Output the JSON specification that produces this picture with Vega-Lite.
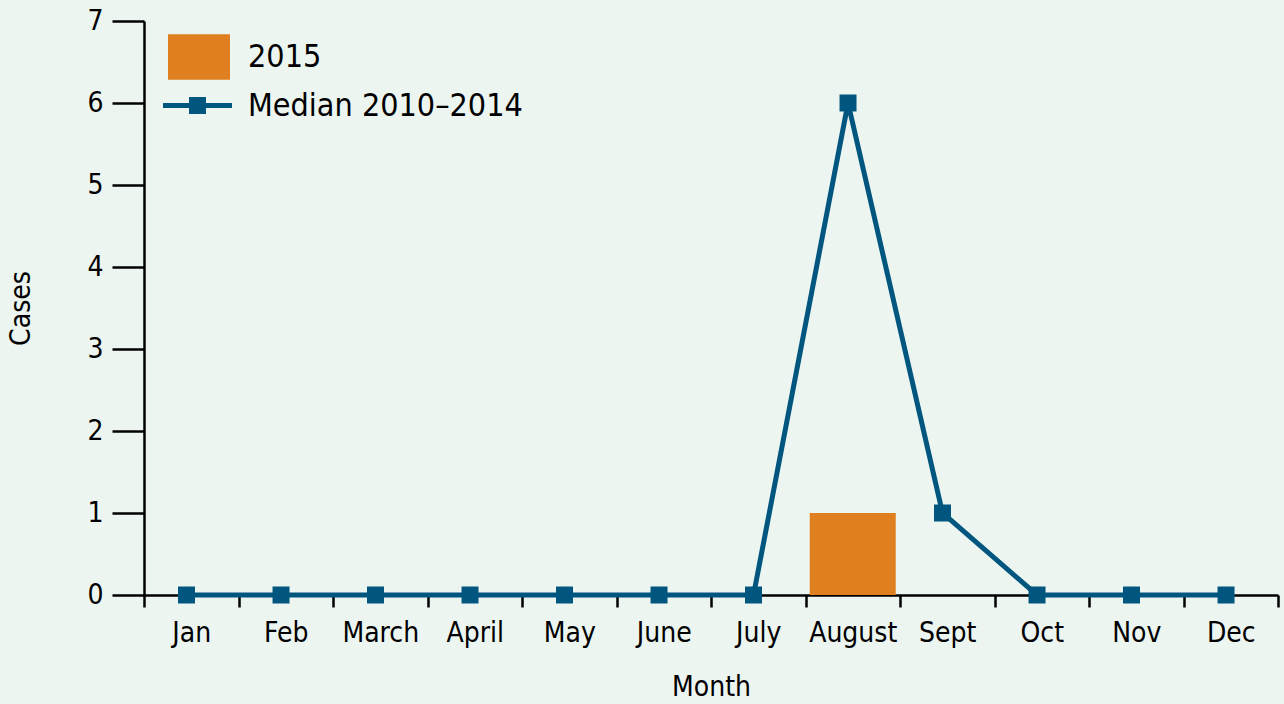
{
  "$schema": "https://vega.github.io/schema/vega-lite/v6.json",
  "width": 1134,
  "height": 574,
  "autosize": "none",
  "padding": {"left": 144, "top": 21, "right": 6, "bottom": 109},
  "background": "#ECF5F0",
  "config": {
    "view": {"stroke": null},
    "font": "DejaVu Sans Condensed, Liberation Sans, sans-serif",
    "axis": {"domainColor": "#000000", "domainWidth": 2.5, "tickColor": "#000000", "tickWidth": 2.5, "labelColor": "#000000", "titleColor": "#000000", "labelFont": "DejaVu Sans Condensed, Liberation Sans, sans-serif", "titleFont": "DejaVu Sans Condensed, Liberation Sans, sans-serif", "labelFontWeight": "normal", "titleFontWeight": "normal", "grid": false}
  },
  "data": {
    "values": [
      {"month": "Jan", "median": 0, "y2015": 0},
      {"month": "Feb", "median": 0, "y2015": 0},
      {"month": "March", "median": 0, "y2015": 0},
      {"month": "April", "median": 0, "y2015": 0},
      {"month": "May", "median": 0, "y2015": 0},
      {"month": "June", "median": 0, "y2015": 0},
      {"month": "July", "median": 0, "y2015": 0},
      {"month": "August", "median": 6, "y2015": 1},
      {"month": "Sept", "median": 1, "y2015": 0},
      {"month": "Oct", "median": 0, "y2015": 0},
      {"month": "Nov", "median": 0, "y2015": 0},
      {"month": "Dec", "median": 0, "y2015": 0}
    ]
  },
  "encoding": {
    "x": {
      "field": "month", "type": "nominal",
      "sort": ["Jan", "Feb", "March", "April", "May", "June", "July", "August", "Sept", "Oct", "Nov", "Dec"],
      "scale": {"paddingInner": 0, "paddingOuter": 0},
      "axis": {"title": "Month", "labelAngle": 0, "tickBand": "extent", "tickSize": 12, "labelPadding": 12, "labelFontSize": 28, "titleFontSize": 28, "titlePadding": 26}
    }
  },
  "layer": [
    {
      "transform": [{"filter": "datum.y2015 > 0"}],
      "mark": {"type": "bar", "width": {"band": 0.91}},
      "encoding": {
        "y": {
          "field": "y2015", "type": "quantitative",
          "scale": {"domain": [0, 7], "nice": false},
          "axis": {"title": "Cases", "values": [0, 1, 2, 3, 4, 5, 6, 7], "format": "d", "tickSize": 32, "labelPadding": 9, "labelFontSize": 28, "titleFontSize": 28, "titlePadding": 51}
        },
        "fill": {
          "datum": "2015",
          "scale": {"domain": ["2015"], "range": ["#E07F1F"]},
          "legend": {
            "title": null, "orient": "none", "legendX": 24, "legendY": 5, "padding": 0,
            "symbolType": "M-1,-0.73L1,-0.73L1,0.73L-1,0.73Z", "symbolSize": 3844, "symbolStrokeWidth": 0,
            "labelFontSize": 32, "labelColor": "#000000", "labelOffset": 18, "labelFont": "DejaVu Sans Condensed, Liberation Sans, sans-serif", "labelLimit": 500
          }
        }
      }
    },
    {
      "mark": {"type": "line", "strokeWidth": 5},
      "encoding": {
        "x": {"field": "month", "type": "nominal", "sort": ["Jan", "Feb", "March", "April", "May", "June", "July", "August", "Sept", "Oct", "Nov", "Dec"], "bandPosition": 0.45},
        "y": {"field": "median", "type": "quantitative"},
        "stroke": {
          "datum": "Median 2010–2014",
          "scale": {"domain": ["Median 2010–2014"], "range": ["#00567F"]},
          "legend": {
            "title": null, "orient": "none", "legendX": 19, "legendY": 50, "padding": 0,
            "symbolType": "M-1,-0.072L1,-0.072L1,0.072L-1,0.072Z M-0.246,-0.246L0.246,-0.246L0.246,0.246L-0.246,0.246Z",
            "symbolSize": 4761, "symbolStrokeWidth": 0, "symbolFillColor": "#00567F",
            "labelFontSize": 32, "labelColor": "#000000", "labelOffset": 16, "labelFont": "DejaVu Sans Condensed, Liberation Sans, sans-serif", "labelLimit": 500
          }
        }
      }
    },
    {
      "mark": {"type": "point", "shape": "square", "filled": true, "size": 289, "color": "#00567F", "opacity": 1},
      "encoding": {
        "x": {"field": "month", "type": "nominal", "sort": ["Jan", "Feb", "March", "April", "May", "June", "July", "August", "Sept", "Oct", "Nov", "Dec"], "bandPosition": 0.45},
        "y": {"field": "median", "type": "quantitative"}
      }
    }
  ]
}
